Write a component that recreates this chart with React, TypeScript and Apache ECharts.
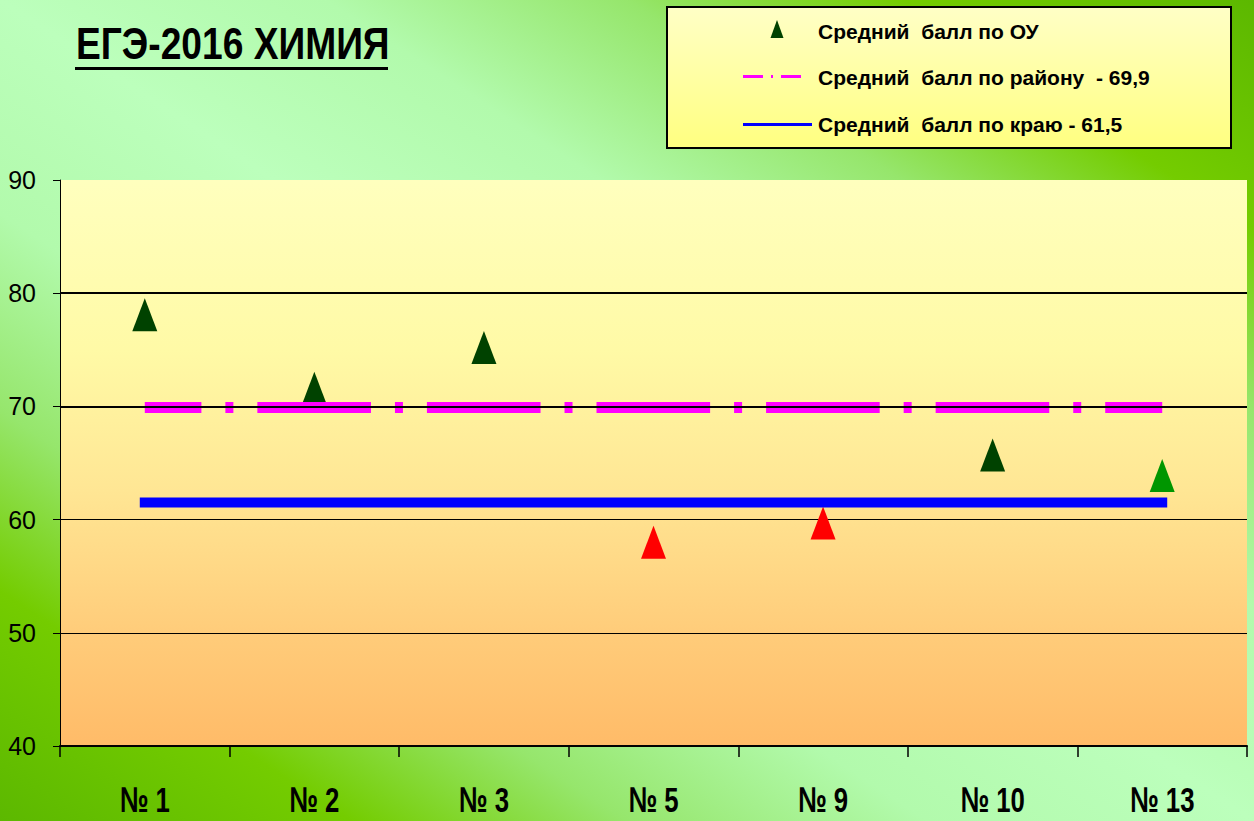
import React, { useEffect, useRef } from "react";
import * as echarts from "echarts";

const categories = ["№ 1", "№ 2", "№ 3", "№ 5", "№ 9", "№ 10", "№ 13"];
const schoolScores = [78.1, 71.6, 75.2, 58.0, 59.7, 65.7, 63.9];
const pointColors = ["#004200", "#004200", "#004200", "#ff0000", "#ff0000", "#004200", "#009600"];
const districtScores = [69.9, 69.9, 69.9, 69.9, 69.9, 69.9, 69.9];
const regionScores = [61.5, 61.5, 61.5, 61.5, 61.5, 61.5, 61.5];
const yMin = 40;
const yMax = 90;
const yStep = 10;

const titleText = "ЕГЭ-2016 ХИМИЯ";
const legendNames = [
  "Средний  балл по ОУ",
  "Средний  балл по району  - 69,9",
  "Средний  балл по краю - 61,5",
];

const W = 1254;
const H = 821;
const GRID = { left: 60, right: 7, top: 180, bottom: 75 };
const SANS = '"Liberation Sans", Arial, sans-serif';

export default function App() {
  const ref = useRef<HTMLDivElement>(null);
  useEffect(() => {
    if (!ref.current) return;
    const chart = echarts.init(ref.current, undefined, { renderer: "svg" });
    const cw = (W - GRID.left - GRID.right) / categories.length;
    const dash = cw * 0.67;
    const dot = 8;
    const gap = (cw - dash - dot) / 2;

    chart.setOption({
      animation: false,
      backgroundColor: "transparent",
      grid: {
        ...GRID,
        show: true,
        borderWidth: 0,
        backgroundColor: {
          type: "linear",
          x: 0,
          y: 0,
          x2: 0,
          y2: 1,
          colorStops: [
            { offset: 0, color: "#ffffbe" },
            { offset: 0.3, color: "#fffaa6" },
            { offset: 0.55, color: "#ffe694" },
            { offset: 0.8, color: "#ffcc7a" },
            { offset: 1, color: "#ffbb68" },
          ],
        },
      },
      xAxis: {
        type: "category",
        data: categories,
        boundaryGap: true,
        axisLine: { show: true, lineStyle: { color: "#000", width: 2 } },
        axisTick: { show: true, length: 11, lineStyle: { color: "#000", width: 1.5 } },
        axisLabel: { show: false },
        splitLine: { show: false },
      },
      yAxis: {
        type: "value",
        min: yMin,
        max: yMax,
        interval: yStep,
        axisLine: { show: true, lineStyle: { color: "#000", width: 1 } },
        axisTick: { show: true, length: 7, lineStyle: { color: "#000", width: 1 } },
        axisLabel: {
          color: "#000",
          fontFamily: SANS,
          fontSize: 25,
          margin: 24,
        },
        splitLine: {
          show: true,
          showMaxLine: false,
          lineStyle: { color: "#000", width: 1 },
        },
      },
      series: [
        {
          name: legendNames[0],
          type: "scatter",
          symbol: "triangle",
          symbolSize: [25, 33],
          itemStyle: { opacity: 1 },
          data: schoolScores.map((v, i) => ({
            value: v,
            itemStyle: { color: pointColors[i], opacity: 1 },
          })),
          markLine: {
            silent: true,
            symbol: "none",
            label: { show: false },
            lineStyle: { color: "#000", width: 2, type: "solid" },
            data: [{ yAxis: 80 }, { yAxis: 70 }],
          },
        },
        {
          name: legendNames[1],
          type: "line",
          data: districtScores,
          symbol: "none",
          lineStyle: {
            color: "#ff00ff",
            width: 11,
            type: [dash, gap, dot, gap],
            dashOffset: dash / 2,
            cap: "butt",
          },
        },
        {
          name: legendNames[2],
          type: "line",
          data: regionScores,
          symbol: "none",
          lineStyle: { color: "#0000ff", width: 10, type: "solid", cap: "square" },
        },
      ],
    });

    const labelY = H - GRID.bottom + 54;
    const xLabels = categories.map((c) => {
      const px = chart.convertToPixel({ xAxisIndex: 0 }, c) as number;
      return {
        type: "text",
        x: px,
        y: labelY,
        scaleX: 0.715,
        style: {
          text: c,
          fill: "#000",
          font: `bold 36px ${SANS}`,
          align: "center",
          verticalAlign: "middle",
        },
      };
    });

    chart.setOption({
      graphic: [
        {
          type: "text",
          x: 76,
          y: 44,
          scaleX: 0.845,
          style: {
            text: titleText,
            fill: "#000",
            font: `bold 44px ${SANS}`,
            verticalAlign: "middle",
          },
        },
        {
          type: "line",
          shape: { x1: 75, y1: 68.5, x2: 388, y2: 68.5 },
          style: { stroke: "#000", lineWidth: 3 },
        },
        {
          type: "rect",
          shape: { x: 667, y: 7, width: 564, height: 141 },
          style: {
            fill: {
              type: "linear",
              x: 0,
              y: 0,
              x2: 0,
              y2: 1,
              colorStops: [
                { offset: 0, color: "#ffffc6" },
                { offset: 1, color: "#ffff80" },
              ],
            },
            stroke: "#000",
            lineWidth: 2,
          },
        },
        {
          type: "polygon",
          shape: { points: [[777, 20], [770.5, 38], [783.5, 38]] },
          style: { fill: "#004200" },
        },
        {
          type: "line",
          shape: { x1: 743, y1: 76.5, x2: 802, y2: 76.5 },
          style: { stroke: "#ff00ff", lineWidth: 3, lineDash: [20, 8, 2, 8] },
        },
        {
          type: "line",
          shape: { x1: 743, y1: 124.5, x2: 812, y2: 124.5 },
          style: { stroke: "#0000ff", lineWidth: 3 },
        },
        ...legendNames.map((t, i) => ({
          type: "text",
          x: 818,
          y: [31, 77, 124][i],
          style: {
            text: t,
            fill: "#000",
            font: `bold 21px ${SANS}`,
            verticalAlign: "middle",
          },
        })),
        ...xLabels,
      ],
    });
    return () => chart.dispose();
  }, []);

  return (
    <div
      style={{
        position: "fixed",
        left: 0,
        top: 0,
        width: W,
        height: H,
        background:
          "linear-gradient(to top right, #5cb800 0%, #74cc00 14%, #96e66c 25%, #b2faac 37%, #bcffbc 50%, #b2faac 63%, #96e66c 75%, #74cc00 86%, #5cb800 100%)",
      }}
    >
      <div ref={ref} style={{ width: W, height: H }} />
    </div>
  );
}
